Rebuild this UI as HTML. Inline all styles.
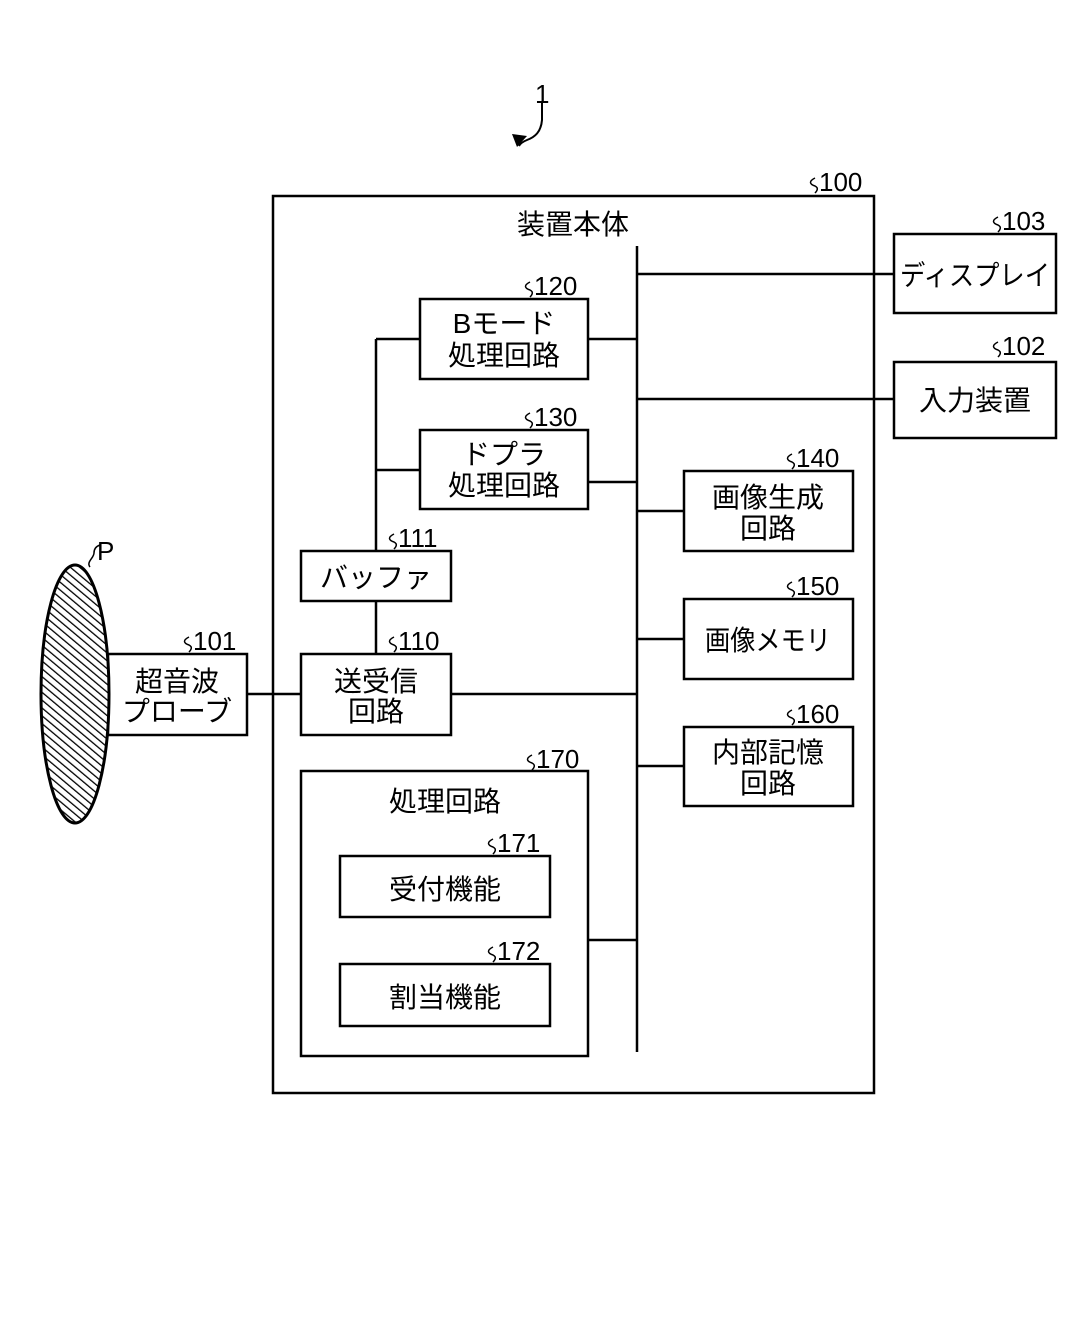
<!DOCTYPE html>
<html><head><meta charset="utf-8"><style>html,body{margin:0;padding:0;background:#fff}</style></head>
<body>
<svg width="1087" height="1339" viewBox="0 0 1087 1339" xmlns="http://www.w3.org/2000/svg">
<defs>
<pattern id="h" width="6" height="6" patternUnits="userSpaceOnUse" patternTransform="rotate(-50)">
<rect width="6" height="6" fill="#fff"/><line x1="0" y1="0" x2="0" y2="6" stroke="#000" stroke-width="2.6"/>
</pattern>
</defs>
<g fill="none" stroke="#000" stroke-width="2.5">
<rect x="273" y="196" width="601" height="897"/>
<rect x="894" y="234" width="162" height="79"/>
<rect x="894" y="362" width="162" height="76"/>
<rect x="420" y="299" width="168" height="80"/>
<rect x="420" y="430" width="168" height="79"/>
<rect x="301" y="551" width="150" height="50"/>
<rect x="301" y="654" width="150" height="81"/>
<rect x="108" y="654" width="139" height="81"/>
<rect x="684" y="471" width="169" height="80"/>
<rect x="684" y="599" width="169" height="80"/>
<rect x="684" y="727" width="169" height="79"/>
<rect x="301" y="771" width="287" height="285"/>
<rect x="340" y="856" width="210" height="61"/>
<rect x="340" y="964" width="210" height="62"/>
<line x1="637" y1="246" x2="637" y2="1052"/>
<line x1="637" y1="274" x2="894" y2="274"/>
<line x1="637" y1="399" x2="894" y2="399"/>
<line x1="588" y1="339" x2="637" y2="339"/>
<line x1="588" y1="482" x2="637" y2="482"/>
<line x1="376" y1="339" x2="420" y2="339"/>
<line x1="376" y1="470" x2="420" y2="470"/>
<line x1="376" y1="339" x2="376" y2="551"/>
<line x1="376" y1="601" x2="376" y2="654"/>
<line x1="451" y1="694" x2="637" y2="694"/>
<line x1="247" y1="694" x2="301" y2="694"/>
<line x1="637" y1="511" x2="684" y2="511"/>
<line x1="637" y1="639" x2="684" y2="639"/>
<line x1="637" y1="766" x2="684" y2="766"/>
<line x1="588" y1="940" x2="637" y2="940"/>
</g>
<path d="M542 102 V120 C541 132 535 137 527 140 C522 142 520 144 519 146" fill="none" stroke="#000" stroke-width="2"/>
<polygon points="512,134 527,136 517,147" fill="#000"/>
<ellipse cx="75" cy="694" rx="34" ry="129" fill="url(#h)" stroke="#000" stroke-width="3"/>
<path d="M90 567 C86 562 94 558 94 553 C94 548 97 546 100 545" fill="none" stroke="#000" stroke-width="1.5"/>
<g font-family="'Liberation Sans','Noto Sans CJK JP',sans-serif" font-size="28" text-anchor="middle" fill="#000">
<text x="573" y="234">装置本体</text>
<text x="975" y="285" textLength="150" lengthAdjust="spacingAndGlyphs">ディスプレイ</text>
<text x="975" y="410">入力装置</text>
<text x="504" y="333">Bモード</text>
<text x="504" y="365">処理回路</text>
<text x="504" y="464">ドプラ</text>
<text x="504" y="495">処理回路</text>
<text x="376" y="587">バッファ</text>
<text x="376" y="691">送受信</text>
<text x="376" y="721">回路</text>
<text x="177" y="691">超音波</text>
<text x="177" y="721">プローブ</text>
<text x="768" y="507">画像生成</text>
<text x="768" y="538">回路</text>
<text x="768" y="650" textLength="126" lengthAdjust="spacingAndGlyphs">画像メモリ</text>
<text x="768" y="762">内部記憶</text>
<text x="768" y="793">回路</text>
<text x="445" y="811">処理回路</text>
<text x="445" y="899">受付機能</text>
<text x="445" y="1007">割当機能</text>
</g>
<g font-family="'Liberation Sans',sans-serif" font-size="26" fill="#000">
<text x="535" y="103">1</text>
<text x="97" y="560">P</text>
<text x="819" y="191">100</text>
<text x="1002" y="230">103</text>
<text x="1002" y="355">102</text>
<text x="534" y="295">120</text>
<text x="534" y="426">130</text>
<text x="796" y="467">140</text>
<text x="796" y="595">150</text>
<text x="796" y="723">160</text>
<text x="398" y="547">111</text>
<text x="398" y="650">110</text>
<text x="193" y="650">101</text>
<text x="536" y="768">170</text>
<text x="497" y="852">171</text>
<text x="497" y="960">172</text>
</g>
<g fill="none" stroke="#000" stroke-width="1.5">
<path d="M815 178 c-6 3 -6 6 0 8 c4 2 2 5 0 7"/>
<path d="M998 217 c-6 3 -6 6 0 8 c4 2 2 5 0 7"/>
<path d="M998 342 c-6 3 -6 6 0 8 c4 2 2 5 0 7"/>
<path d="M530 282 c-6 3 -6 6 0 8 c4 2 2 5 0 7"/>
<path d="M530 413 c-6 3 -6 6 0 8 c4 2 2 5 0 7"/>
<path d="M792 454 c-6 3 -6 6 0 8 c4 2 2 5 0 7"/>
<path d="M792 582 c-6 3 -6 6 0 8 c4 2 2 5 0 7"/>
<path d="M792 710 c-6 3 -6 6 0 8 c4 2 2 5 0 7"/>
<path d="M394 534 c-6 3 -6 6 0 8 c4 2 2 5 0 7"/>
<path d="M394 637 c-6 3 -6 6 0 8 c4 2 2 5 0 7"/>
<path d="M189 637 c-6 3 -6 6 0 8 c4 2 2 5 0 7"/>
<path d="M532 755 c-6 3 -6 6 0 8 c4 2 2 5 0 7"/>
<path d="M493 839 c-6 3 -6 6 0 8 c4 2 2 5 0 7"/>
<path d="M493 947 c-6 3 -6 6 0 8 c4 2 2 5 0 7"/>
</g>
</svg>
</body></html>
